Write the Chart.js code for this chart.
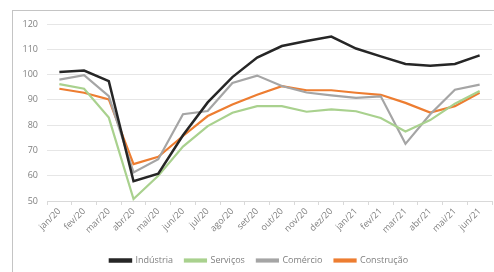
<!DOCTYPE html>
<html>
<head>
<meta charset="utf-8">
<script src="https://cdn.jsdelivr.net/npm/chart.js@4"></script>
<style>
  html, body { margin: 0; padding: 0; background: #fff; }
  body { width: 494px; height: 272px; position: relative; overflow: hidden; }
  #frame { position: absolute; left: 12px; top: 10px; width: 490px; height: 280px; border: 1px solid #c4c4c4; box-sizing: border-box; }
  #wrap { position: absolute; left: 0; top: 0; width: 494px; height: 272px; }
</style>
</head>
<body>
<div id="frame"></div>
<div id="wrap"><canvas id="c" width="494" height="272"></canvas></div>
<script>
const categories = ["jan/20","fev/20","mar/20","abr/20","mai/20","jun/20","jul/20","ago/20","set/20","out/20","nov/20","dez/20","jan/21","fev/21","mar/21","abr/21","mai/21","jun/21"];
const industria  = [101, 101.6, 97.4, 57.8, 60.8, 76, 89, 99, 106.7, 111.3, 113.3, 115, 110.3, 107.2, 104.2, 103.5, 104.2, 107.6];
const servicos   = [96.2, 94.4, 83, 50.8, 60, 71.5, 79.6, 84.9, 87.5, 87.5, 85.3, 86.2, 85.5, 82.8, 77.5, 82, 88.5, 93.5];
const comercio   = [98, 99.8, 91.5, 61.3, 66.5, 84.3, 85.6, 96.7, 99.6, 95.5, 92.9, 91.8, 90.8, 91.4, 72.6, 84.3, 94, 96];
const construcao = [94.4, 92.8, 90.2, 64.6, 67.5, 75.7, 83.6, 88.2, 92, 95.4, 93.8, 93.8, 92.8, 92, 88.8, 85, 87.5, 92.8];
const seriesNames = ["Indústria","Serviços","Comércio","Construção"];
const yTicks = [50, 60, 70, 80, 90, 100, 110, 120];

const colors = ["#262626", "#a9d18e", "#a5a5a5", "#ed7d31"];
const values = [industria, servicos, comercio, construcao];

const datasets = seriesNames.map((n, i) => ({
  label: n,
  data: values[i],
  borderColor: colors[i],
  backgroundColor: colors[i],
  borderWidth: i === 0 ? 2.5 : 2.2,
  pointRadius: 0,
  tension: 0,
  fill: false
}));

const font = { family: "'Open Sans', 'Liberation Sans', sans-serif", size: 9 };

const shiftLegend = {
  id: 'shiftLegend',
  afterLayout(chart) {
    const lg = chart.legend;
    if (!lg) return;
    lg.left += 7; lg.right += 7;
    lg.top += 7; lg.bottom += 7;
  }
};

new Chart(document.getElementById('c'), {
  type: 'line',
  data: { labels: categories, datasets: datasets },
  plugins: [shiftLegend],
  options: {
    responsive: false,
    animation: false,
    layout: { padding: { left: 12, right: 2, top: 24, bottom: 4 } },
    plugins: {
      legend: {
        position: 'bottom',
        labels: {
          boxWidth: 21,
          boxHeight: 2,
          padding: 12,
          color: '#7f7f7f',
          font: font
        }
      },
      tooltip: { enabled: false }
    },
    scales: {
      x: {
        offset: true,
        grid: { display: true, drawOnChartArea: false, drawTicks: true, tickLength: 4, color: '#d9d9d9', offset: true },
        border: { display: true, color: '#d9d9d9' },
        ticks: { color: '#7f7f7f', font: font, minRotation: 45, maxRotation: 45, autoSkip: false, padding: 1 },
        afterFit: (s) => { s.height = 36; }
      },
      y: {
        min: 50, max: 120,
        afterBuildTicks: (s) => { s.ticks = yTicks.map(v => ({ value: v })); },
        grid: { color: '#e6e6e6', drawTicks: false },
        border: { display: false },
        ticks: { color: '#7f7f7f', font: font, padding: 9 },
        afterFit: (s) => { s.width = 35; }
      }
    }
  }
});
</script>
</body>
</html>
